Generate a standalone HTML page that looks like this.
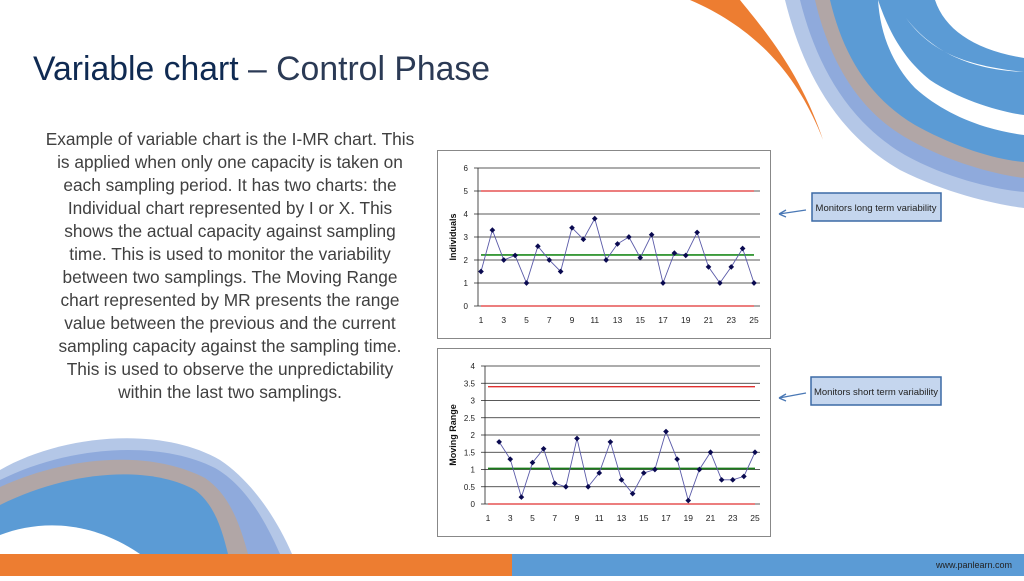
<!DOCTYPE html>
<html><head><meta charset="utf-8"><style>
body{margin:0;width:1024px;height:576px;overflow:hidden;background:#fff;font-family:"Liberation Sans",sans-serif}
</style></head><body>
<svg id="s" width="1024" height="576" viewBox="0 0 1024 576" xmlns="http://www.w3.org/2000/svg">
<path d="M690,0 C760,30 800,80 823,140 C800,70 760,25 740,0 Z" fill="#ed7d31"/>
<path d="M785,0 C800,60 830,130 900,170 C950,195 1000,205 1024,208 L1024,170 C980,165 930,150 890,110 C860,80 845,40 842,0 Z" fill="#b4c7e7"/>
<path d="M800,0 C815,60 845,120 905,155 C950,180 1000,190 1024,192 L1024,160 C975,155 930,140 895,105 C870,75 858,40 855,0 Z" fill="#8faadc"/>
<path d="M815,0 C828,55 855,110 910,140 C955,165 1000,175 1024,178 L1024,150 C980,146 938,130 905,98 C880,70 868,35 866,0 Z" fill="#b1a6a6"/>
<path d="M830,0 C842,50 865,95 915,125 C960,150 1000,160 1024,162 L1024,135 C985,130 945,115 915,88 C890,62 880,30 878,0 Z" fill="#5b9bd5"/>
<path d="M878,0 C890,35 905,60 930,80 C960,100 1000,112 1024,115 L1024,0 Z" fill="#5b9bd5"/>
<path d="M906,18 C930,50 960,65 1024,72 L1024,0 L935,0 C945,30 975,50 1024,58 L1024,72 C975,70 935,55 906,18 Z" fill="#fff"/>
<path d="M0,470 C60,435 160,425 220,460 C250,480 275,515 292,554 L0,554 Z" fill="#b4c7e7"/>
<path d="M0,480 C70,445 160,440 215,468 C245,485 265,520 280,554 L0,554 Z" fill="#8faadc"/>
<path d="M0,487 C70,455 150,450 205,478 C230,495 240,525 248,554 L0,554 Z" fill="#b1a6a6"/>
<path d="M0,505 C70,470 150,465 195,490 C215,505 222,530 228,554 L0,554 Z" fill="#5b9bd5"/>
<path d="M0,535 C40,520 90,520 140,554 L0,554 Z" fill="#fff"/>
<rect x="0" y="554" width="512" height="22" fill="#ed7d31"/>
<rect x="512" y="554" width="512" height="22" fill="#5b9bd5"/>
<text x="1012" y="568" font-size="9" text-anchor="end" fill="#222">www.panlearn.com</text>
<text x="33" y="80" font-size="34" fill="#0f2a52" textLength="457" lengthAdjust="spacingAndGlyphs">Variable chart<tspan fill="#2b3a55"> – Control Phase</tspan></text>
<g font-size="17.3" fill="#404040" text-anchor="middle">
<text x="230" y="145">Example of variable chart is the I-MR chart. This</text>
<text x="230" y="168">is applied when only one capacity is taken on</text>
<text x="230" y="191">each sampling period. It has two charts: the</text>
<text x="230" y="214">Individual chart represented by I or X. This</text>
<text x="230" y="237">shows the actual capacity against sampling</text>
<text x="230" y="260">time. This is used to monitor the variability</text>
<text x="230" y="283">between two samplings. The Moving Range</text>
<text x="230" y="306">chart represented by MR presents the range</text>
<text x="230" y="329">value between the previous and the current</text>
<text x="230" y="352">sampling capacity against the sampling time.</text>
<text x="230" y="375">This is used to observe the unpredictability</text>
<text x="230" y="398">within the last two samplings.</text>
</g>
<rect x="437.5" y="150.5" width="333" height="188" fill="#fff" stroke="#888"/>
<rect x="437.5" y="348.5" width="333" height="188" fill="#fff" stroke="#888"/>
<g id="c"></g>
<rect x="812" y="193" width="129" height="28" fill="#c5d6ee" stroke="#3c6aa5" stroke-width="1.5"/>
<text x="876" y="211" font-size="9.5" text-anchor="middle" fill="#222">Monitors long term variability</text>
<rect x="811" y="377" width="130" height="28" fill="#c5d6ee" stroke="#3c6aa5" stroke-width="1.5"/>
<text x="876" y="395" font-size="9.5" text-anchor="middle" fill="#222">Monitors short term variability</text>
<g stroke="#4a78b5" stroke-width="1.3" fill="none">
<path d="M806,210 L779,214 M779,214 L786,210 M779,214 L786,217"/>
<path d="M806,393 L779,398 M779,398 L786,394 M779,398 L786,401"/>
</g>
</svg>
<script>
var g=document.getElementById('c'),NS='http://www.w3.org/2000/svg';
function el(t,a,txt){var e=document.createElementNS(NS,t);for(var k in a)e.setAttribute(k,a[k]);if(txt!=null)e.textContent=txt;g.appendChild(e);return e;}
function chart(o){
 var y=function(v){return o.y0-(v/o.max)*(o.y0-o.ytop)};
 var x=function(i){return o.x1+(i-1)*o.dx};
 for(var v=0;v<=o.max+1e-9;v+=o.step){
  el('line',{x1:o.gx0,x2:o.gx1,y1:y(v),y2:y(v),stroke:'#222','stroke-width':0.8});
  el('text',{x:o.gx0-6,y:y(v)+3,'font-size':8,'text-anchor':'end',fill:'#222'},String(Math.round(v*10)/10));
 }
 el('line',{x1:o.gx0+4,x2:o.gx0+4,y1:o.ytop,y2:o.y0,stroke:'#222','stroke-width':0.8});
 for(var i=1;i<=25;i+=2) el('text',{x:x(i),y:o.y0+17,'font-size':8.5,'text-anchor':'middle',fill:'#222'},i);
 el('line',{x1:o.x1,x2:x(25),y1:y(o.ucl),y2:y(o.ucl),stroke:'#e03030','stroke-width':1.3});
 el('line',{x1:o.x1,x2:x(25),y1:y(0),y2:y(0),stroke:'#e03030','stroke-width':1.3});
 el('line',{x1:o.x1,x2:x(25),y1:y(o.cl),y2:y(o.cl),stroke:o.clc,'stroke-width':1.8});
 var p=[];o.d.forEach(function(v,k){p.push(x(k+o.s)+','+y(v))});
 el('polyline',{points:p.join(' '),fill:'none',stroke:'#5a5aa8','stroke-width':0.9});
 o.d.forEach(function(v,k){el('rect',{x:x(k+o.s)-2,y:y(v)-2,width:4,height:4,fill:'#0a0a50',transform:'rotate(45 '+x(k+o.s)+' '+y(v)+')'})});
 el('text',{x:0,y:0,'font-size':9,'font-weight':'bold','text-anchor':'middle',fill:'#111',transform:'translate('+o.lx+','+((o.ytop+o.y0)/2)+') rotate(-90)'},o.label);
}
chart({y0:306,ytop:168,max:6,step:1,x1:481,dx:11.375,gx0:474,gx1:760,ucl:5,cl:2.22,clc:'#3a9a3a',s:1,
 d:[1.5,3.3,2.0,2.2,1.0,2.6,2.0,1.5,3.4,2.9,3.8,2.0,2.7,3.0,2.1,3.1,1.0,2.3,2.2,3.2,1.7,1.0,1.7,2.5,1.0],lx:456,label:'Individuals'});
chart({y0:504,ytop:366,max:4,step:0.5,x1:488,dx:11.125,gx0:481,gx1:760,ucl:3.4,cl:1.03,clc:'#1a7a1a',s:2,
 d:[1.8,1.3,0.2,1.2,1.6,0.6,0.5,1.9,0.5,0.9,1.8,0.7,0.3,0.9,1.0,2.1,1.3,0.1,1.0,1.5,0.7,0.7,0.8,1.5],lx:456,label:'Moving Range'});
</script>
</body></html>
